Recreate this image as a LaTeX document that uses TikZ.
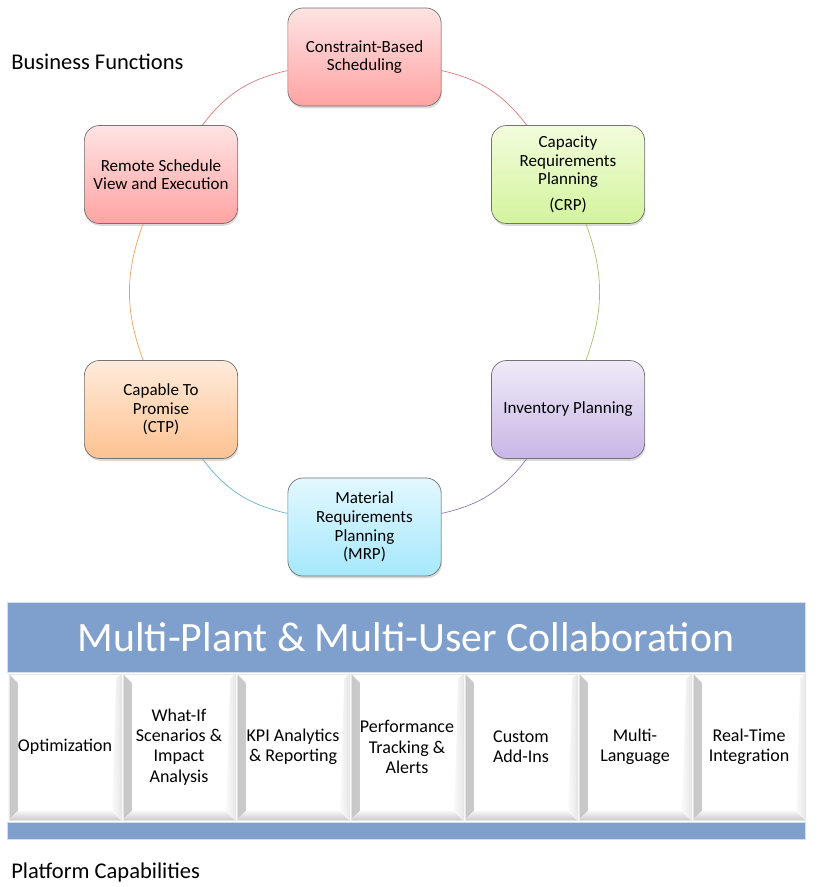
\documentclass[tikz,border=0pt]{standalone}
\usepackage{fontspec}
\setmainfont{Carlito}
\usetikzlibrary{calc,shadows}

\definecolor{bandblue}{HTML}{7F9FCD}
\definecolor{bandline}{HTML}{D5DEEC}
\definecolor{redtop}{HTML}{FFE3E3}
\definecolor{redbot}{HTML}{FFA3A3}
\definecolor{greentop}{HTML}{F2FCDC}
\definecolor{greenbot}{HTML}{D3F49C}
\definecolor{violettop}{HTML}{EFEAF8}
\definecolor{violetbot}{HTML}{C8B6E6}
\definecolor{bluetop}{HTML}{E2F8FF}
\definecolor{bluebot}{HTML}{A6E8FC}
\definecolor{orangetop}{HTML}{FFEBDB}
\definecolor{orangebot}{HTML}{FDC291}
\definecolor{redring}{HTML}{DC7A76}
\definecolor{greenring}{HTML}{A5C26B}
\definecolor{violetring}{HTML}{8E7BB0}
\definecolor{bluering}{HTML}{62B5CE}
\definecolor{orangering}{HTML}{F5A05C}

\begin{document}
\begin{tikzpicture}[x=0.025cm,y=0.025cm,
  bizbox/.style={draw=black!55, line width=0.5pt, rounded corners=0.38cm,
    minimum width=3.83cm, minimum height=2.45cm, align=center,
    font=\fontsize{12.1}{13.2}\selectfont,
    drop shadow={opacity=0.3, shadow xshift=0.6pt, shadow yshift=-1.6pt}},
  ring/.style={line width=0.5pt},
  bandbox/.style={draw=bandline, fill=bandblue, minimum width=19.95cm,
    inner sep=0pt},
  capbox/.style={draw=black!10, fill=white, minimum width=2.8cm,
    minimum height=3.65cm, inner sep=0pt, align=center,
    font=\fontsize{12.8}{14.4}\selectfont,
    path picture={
      \fill[left color=black!22, right color=black!4]
        (path picture bounding box.north west) -- ++(0.22cm,-0.22cm)
        -- ([shift={(0.22cm,0.22cm)}]path picture bounding box.south west)
        -- (path picture bounding box.south west) -- cycle;
      \fill[top color=black!4, bottom color=black!20]
        (path picture bounding box.south west) -- ++(0.22cm,0.22cm)
        -- ([shift={(-0.22cm,0.22cm)}]path picture bounding box.south east)
        -- (path picture bounding box.south east) -- cycle;
      \fill[left color=black!2, right color=black!9]
        (path picture bounding box.north east) -- ++(-0.12cm,-0.12cm)
        -- ([shift={(-0.22cm,0.22cm)}]path picture bounding box.south east)
        -- (path picture bounding box.south east) -- cycle;
    }},
  lbl/.style={anchor=west, inner sep=0pt, font=\fontsize{16}{19}\selectfont}
]
\useasboundingbox (0,0) rectangle (826,-887);

% business functions ring
\coordinate (c) at (364.5,-292);
\node[bizbox, top color=redtop, bottom color=redbot] (sched) at ($(c)+(90:235)$) {Constraint-Based\\Scheduling};
\node[bizbox, top color=greentop, bottom color=greenbot] (crp) at ($(c)+(30:235)$) {Capacity\\Requirements\\Planning\\[5pt](CRP)};
\node[bizbox, top color=violettop, bottom color=violetbot] (inv) at ($(c)+(-30:235)$) {Inventory Planning};
\node[bizbox, top color=bluetop, bottom color=bluebot] (mrp) at ($(c)+(-90:235)$) {Material\\Requirements\\Planning\\(MRP)};
\node[bizbox, top color=orangetop, bottom color=orangebot] (ctp) at ($(c)+(-150:235)$) {Capable To\\Promise\\(CTP)};
\node[bizbox, top color=redtop, bottom color=redbot] (remote) at ($(c)+(150:235)$) {Remote Schedule\\View and Execution};

\draw[ring, draw=redring] (sched) to[bend left=20] (crp);
\draw[ring, draw=greenring] (crp) to[bend left=20] (inv);
\draw[ring, draw=violetring] (inv) to[bend left=20] (mrp);
\draw[ring, draw=bluering] (mrp) to[bend left=20] (ctp);
\draw[ring, draw=orangering] (ctp) to[bend left=20] (remote);
\draw[ring, draw=redring] (remote) to[bend left=20] (sched);

\node[lbl] (bizlbl) at (11,-62) {Business Functions};

% platform capabilities
\node[bandbox, minimum height=1.75cm, text=white, font=\fontsize{29.7}{32}\selectfont] (collab) at (406,-637) {Multi-Plant \& Multi-User Collaboration};
\node[capbox] (cap1) at (65,-747) {Optimization};
\node[capbox] (cap2) at (179,-747) {What-If\\Scenarios \&\\Impact\\Analysis};
\node[capbox] (cap3) at (293,-747) {KPI Analytics\\\& Reporting};
\node[capbox] (cap4) at (407,-747) {Performance\\Tracking \&\\Alerts};
\node[capbox] (cap5) at (521,-747) {Custom\\Add-Ins};
\node[capbox] (cap6) at (635,-747) {Multi-\\Language};
\node[capbox] (cap7) at (749,-747) {Real-Time\\Integration};
\node[bandbox, minimum height=0.425cm] (bar) at (406,-830.5) {};

\node[lbl] (platlbl) at (11,-872) {Platform Capabilities};
\end{tikzpicture}
\end{document}
